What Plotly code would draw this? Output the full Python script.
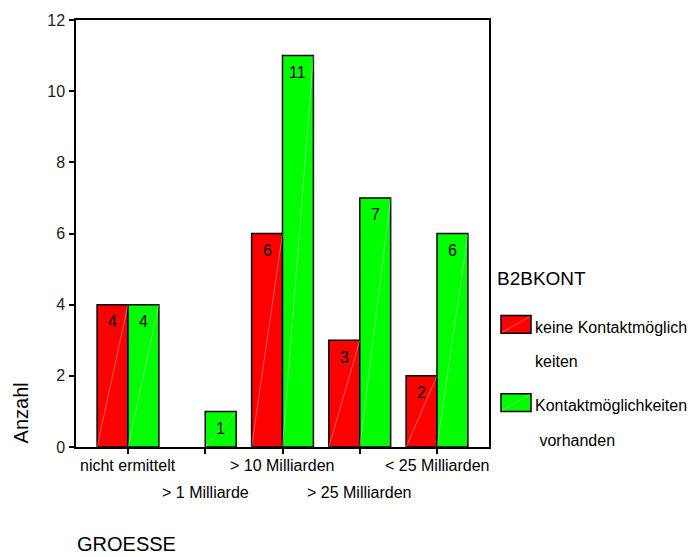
import plotly.graph_objects as go

# Categories of GROESSE and counts per B2BKONT group
categories = ["nicht ermittelt", "> 1 Milliarde", "> 10 Milliarden", "> 25 Milliarden", "< 25 Milliarden"]
keine_kontakt = [4, 0, 6, 3, 2]
kontakt_vorhanden = [4, 1, 11, 7, 6]
series_names = ["keine Kontaktmöglich\nkeiten", "Kontaktmöglichkeiten\n vorhanden"]
series_colors = ["#FF0000", "#00FF00"]
y_ticks = [0, 2, 4, 6, 8, 10, 12]

W, H = 691, 557
ML, MR, MT, MB = 76, 202, 15, 110
PW, PH = W - ML - MR, H - MT - MB
FONT = "Liberation Sans, Arial, sans-serif"
BAR_W = 0.4


def px_x(p):
    return (p - ML) / PW


def px_y(p):
    return (H - MB - p) / PH


fig = go.Figure()
idx = list(range(len(categories)))
annotations = []

for values, offset, color in [(keine_kontakt, -BAR_W, series_colors[0]),
                              (kontakt_vorhanden, 0.0, series_colors[1])]:
    fig.add_trace(go.Bar(
        x=idx, y=[v if v else None for v in values], width=BAR_W, offset=offset,
        marker=dict(color=color, line=dict(color="black", width=1.5)),
        hoverinfo="skip", showlegend=False,
    ))
    # faint diagonal highlight across each bar
    xs, ys = [], []
    for i, v in zip(idx, values):
        if v:
            xs += [i + offset, i + offset + BAR_W, None]
            ys += [0, v, None]
            # value label just below the bar top
            annotations.append(dict(
                x=i + offset + BAR_W / 2, y=v, xref="x", yref="y",
                text=str(v), showarrow=False, xanchor="center", yanchor="middle",
                yshift=-17, font=dict(family=FONT, size=16, color="black"),
            ))
    fig.add_trace(go.Scatter(
        x=xs, y=ys, mode="lines",
        line=dict(color="rgba(255,255,255,0.35)", width=1),
        hoverinfo="skip", showlegend=False,
    ))

# two-row category labels under the axis
for i, name in enumerate(categories):
    annotations.append(dict(
        x=i, xref="x", y=px_y(466 if i % 2 == 0 else 493), yref="paper",
        text=name, showarrow=False, xanchor="center", yanchor="middle",
        font=dict(family=FONT, size=16, color="black"),
    ))

annotations.append(dict(
    x=px_x(21), y=px_y(413), xref="paper", yref="paper", text="Anzahl",
    textangle=-90, showarrow=False, xanchor="center", yanchor="middle",
    font=dict(family=FONT, size=20, color="black"),
))
annotations.append(dict(
    x=px_x(75), y=px_y(545), xref="paper", yref="paper", text="GROESSE",
    showarrow=False, xanchor="left", yanchor="middle",
    font=dict(family=FONT, size=20, color="black"),
))
annotations.append(dict(
    x=px_x(495), y=px_y(277), xref="paper", yref="paper", text="B2BKONT",
    showarrow=False, xanchor="left", yanchor="middle",
    font=dict(family=FONT, size=19, color="black"),
))

shapes = []
# legend entries
for k, (name, color) in enumerate(zip(series_names, series_colors)):
    top = 314 + k * 79
    shapes.append(dict(
        type="rect", xref="paper", yref="paper",
        x0=px_x(501), x1=px_x(531), y0=px_y(top), y1=px_y(top + 18),
        fillcolor=color, line=dict(color="black", width=1.5),
    ))
    shapes.append(dict(
        type="line", xref="paper", yref="paper",
        x0=px_x(502), x1=px_x(530), y0=px_y(top + 17), y1=px_y(top + 1),
        line=dict(color="rgba(255,255,255,0.35)", width=1),
    ))
    for j, line in enumerate(name.split("\n")):
        annotations.append(dict(
            x=px_x(533), y=px_y(top + 12 + j * 35), xref="paper", yref="paper",
            text=line.replace(" ", "&nbsp;", 1) if line.startswith(" ") else line,
            showarrow=False, xanchor="left", yanchor="middle",
            font=dict(family=FONT, size=16, color="black"),
        ))

fig.update_layout(
    width=W, height=H,
    margin=dict(l=ML, r=MR, t=MT, b=MB),
    paper_bgcolor="white", plot_bgcolor="white",
    barmode="overlay",
    showlegend=False,
    annotations=annotations,
    shapes=shapes,
    font=dict(family=FONT, color="black"),
)
fig.update_xaxes(
    range=[-0.673, 4.673], tickvals=idx, ticktext=[""] * len(idx),
    ticks="outside", ticklen=5, tickcolor="black", tickwidth=1.5,
    showline=True, linecolor="black", linewidth=1.5, mirror=True,
    showgrid=False, zeroline=False, fixedrange=True,
)
fig.update_yaxes(
    range=[0, 12], tickvals=y_ticks, ticktext=[str(t) for t in y_ticks],
    ticks="outside", ticklen=5, tickcolor="black", tickwidth=1.5,
    ticklabelstandoff=1,
    tickfont=dict(family=FONT, size=16, color="#222222"),
    showline=True, linecolor="black", linewidth=1.5, mirror=True,
    showgrid=False, zeroline=False, fixedrange=True,
)

fig.write_html("out.html")
